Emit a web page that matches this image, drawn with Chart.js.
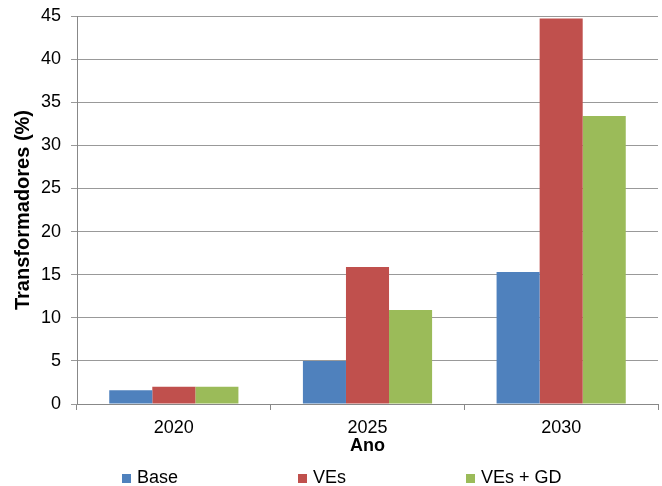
<!DOCTYPE html>
<html>
<head>
<meta charset="utf-8">
<script src="https://cdn.jsdelivr.net/npm/chart.js@4/dist/chart.umd.min.js"></script>
<style>
  html, body { margin: 0; padding: 0; background: #fff; }
  #wrap { position: relative; width: 662px; height: 486px; }
  #legend { position: absolute; left: 0; top: 467px; width: 662px; height: 22px;
            font-family: "Liberation Sans", Arial, sans-serif; font-size: 18px; color: #000; }
  .item { position: absolute; top: 0; display: flex; align-items: center; white-space: nowrap; }
  .sw { width: 9px; height: 9px; margin-right: 6px; margin-top: 2px; }
</style>
</head>
<body>
<div id="wrap">
  <canvas id="c" width="662" height="486"></canvas>
  <div id="legend"></div>
</div>
<script>
// Share of transformers (%) per year and scenario
const years = ['2020', '2025', '2030'];
const seriesNames = ['Base', 'VEs', 'VEs + GD'];
const baseValues = [1.6, 5.0, 15.3];
const vesValues = [2.0, 15.9, 44.7];
const vesGdValues = [2.0, 10.9, 33.4];
const yTicks = [0, 5, 10, 15, 20, 25, 30, 35, 40, 45];

const colors = ['#4F81BD', '#C0504D', '#9BBB59'];
const fontFamily = '"Liberation Sans", Arial, sans-serif';

const datasets = [baseValues, vesValues, vesGdValues].map((vals, i) => ({
  label: seriesNames[i],
  data: vals,
  backgroundColor: colors[i],
  borderWidth: 0,
  categoryPercentage: 0.667,
  barPercentage: 1.0
}));

new Chart(document.getElementById('c'), {
  type: 'bar',
  data: { labels: years, datasets },
  options: {
    responsive: false,
    animation: false,
    layout: { padding: { top: 16, right: 4, left: 0, bottom: 0 } },
    plugins: { legend: { display: false }, tooltip: { enabled: false } },
    scales: {
      x: {
        grid: { display: true, drawOnChartArea: false, offset: true, tickLength: 6, color: '#888' },
        border: { color: '#888', width: 1 },
        ticks: { color: '#000', padding: 7, font: { family: fontFamily, size: 18 } },
        title: { display: true, text: 'Ano', color: '#000',
                 font: { family: fontFamily, size: 18, weight: 'bold' },
                 padding: { top: 0, bottom: 29 } },
        afterFit: s => { s.height = 82; }
      },
      y: {
        min: 0, max: 45,
        afterBuildTicks: s => { s.ticks = yTicks.map(v => ({ value: v })); },
        grid: { color: '#999', tickLength: 6 },
        border: { color: '#888', width: 1 },
        ticks: { color: '#000', padding: 10, font: { family: fontFamily, size: 18 } },
        title: { display: true, text: 'Transformadores (%)', color: '#000',
                 font: { family: fontFamily, size: 20, weight: 'bold' },
                 padding: { top: 11, bottom: 0 } },
        afterFit: s => { s.width = 77; s.paddingTop = 0; s.paddingBottom = 0; }
      }
    }
  }
});

// Legend row under the axis title
const legendLeft = [122, 298, 466];
const legend = document.getElementById('legend');
seriesNames.forEach((name, i) => {
  const item = document.createElement('div');
  item.className = 'item';
  item.style.left = legendLeft[i] + 'px';
  const sw = document.createElement('span');
  sw.className = 'sw';
  sw.style.background = colors[i];
  const tx = document.createElement('span');
  tx.textContent = name;
  item.appendChild(sw);
  item.appendChild(tx);
  legend.appendChild(item);
});
</script>
</body>
</html>
